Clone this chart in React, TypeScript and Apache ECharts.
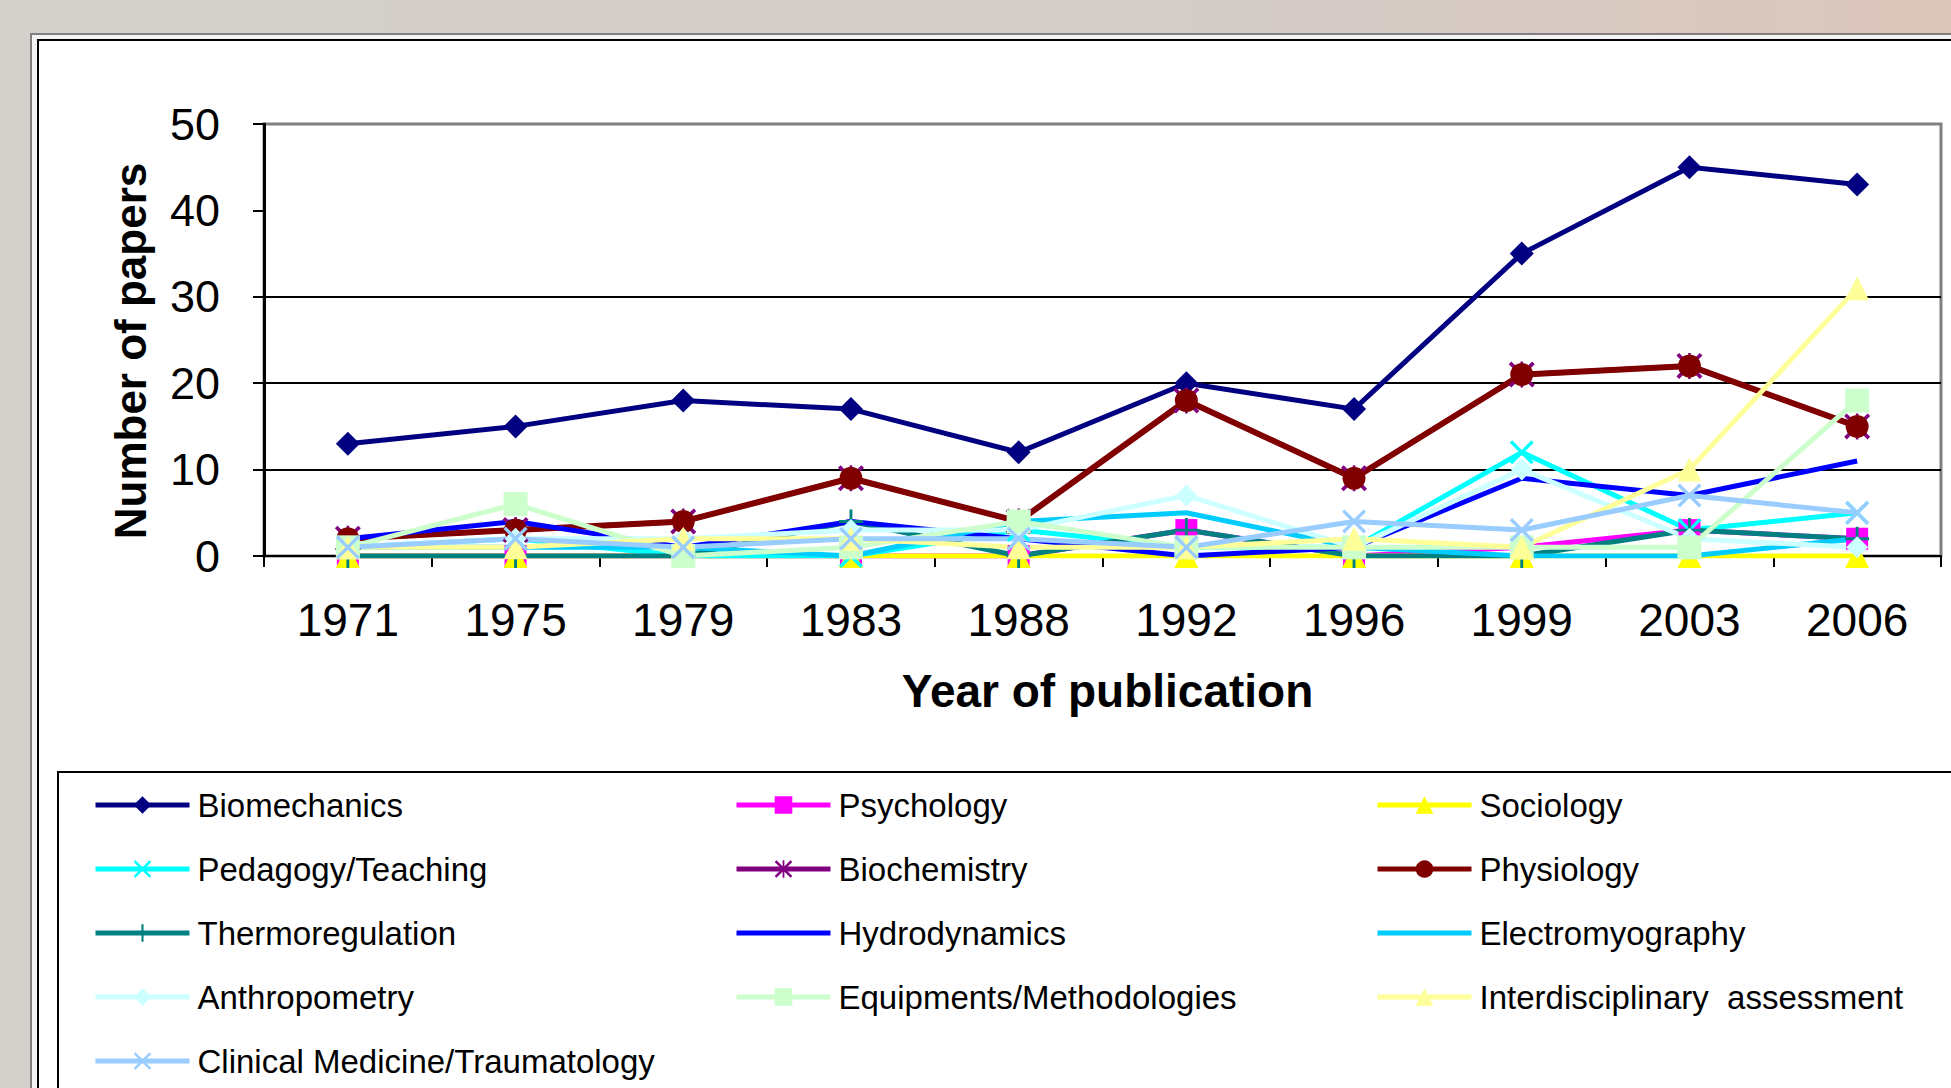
import React, { useEffect, useRef } from "react";
import * as echarts from "echarts";

const years = ["1971", "1975", "1979", "1983", "1988", "1992", "1996", "1999", "2003", "2006"];
const yTicks = [0, 10, 20, 30, 40, 50];
const gridValues = [10, 20, 30];

const biomechanics = [13, 15, 18, 17, 12, 20, 17, 35, 45, 43];
const psychology = [0, 0, 0, 0, 0, 3, 0, 1, 3, 2];
const sociology = [0, 0, 0, 0, 0, 0, 0, 0, 0, 0];
const pedagogy = [1, 2, 0, 0, 3, 1, 1, 12, 3, 5];
const biochemistry = [2, 3, 4, 9, 4, 18, 9, 21, 22, 15];
const physiology = [2, 3, 4, 9, 4, 18, 9, 21, 22, 15];
const thermoregulation = [0, 0, 0, 4, 0, 3, 0, 0, 3, 2];
const hydrodynamics = [2, 4, 1, 4, 2, 0, 1, 9, 7, 11];
const electromyography = [1, 1, 1, 0, 4, 5, 1, 0, 0, 2];
const anthropometry = [1, 2, 2, 3, 3, 7, 1, 10, 2, 1];
const equipments = [1, 6, 0, 1, 4, 1, 1, 1, 1, 18];
const interdisciplinary = [1, 1, 2, 2, 1, 1, 2, 1, 10, 31];
const clinical = [1, 2, 1, 2, 2, 1, 4, 3, 7, 5];

const X_SYM = "path://M0,1L1,0L5,4L9,0L10,1L6,5L10,9L9,10L5,6L1,10L0,9L4,5Z";
const PLUS_SYM = "path://M4.4,0H5.6V10H4.4ZM0,4.4H10V5.6H0Z";
const AST_SYM = "path://M0,1L1,0L5,4L9,0L10,1L6,5L10,9L9,10L5,6L1,10L0,9L4,5ZM4.5,0H5.5V10H4.5Z";

type S = { name: string; data: number[]; color: string; symbol: string; size: number; width: number };

const seriesDefs: S[] = [
  { name: "Biomechanics", data: biomechanics, color: "#000080", symbol: "diamond", size: 24, width: 5 },
  { name: "Psychology", data: psychology, color: "#FF00FF", symbol: "rect", size: 22, width: 5 },
  { name: "Sociology", data: sociology, color: "#FFFF00", symbol: "triangle", size: 24, width: 5 },
  { name: "Pedagogy/Teaching", data: pedagogy, color: "#00FFFF", symbol: X_SYM, size: 24, width: 5 },
  { name: "Biochemistry", data: biochemistry, color: "#800080", symbol: AST_SYM, size: 26, width: 5 },
  { name: "Physiology", data: physiology, color: "#800000", symbol: "circle", size: 23, width: 6 },
  { name: "Thermoregulation", data: thermoregulation, color: "#008080", symbol: PLUS_SYM, size: 24, width: 5 },
  { name: "Hydrodynamics", data: hydrodynamics, color: "#0000FF", symbol: "none", size: 0, width: 5 },
  { name: "Electromyography", data: electromyography, color: "#00CCFF", symbol: "none", size: 0, width: 5 },
  { name: "Anthropometry", data: anthropometry, color: "#CCFFFF", symbol: "diamond", size: 22, width: 5 },
  { name: "Equipments/Methodologies", data: equipments, color: "#CCFFCC", symbol: "rect", size: 24, width: 5 },
  { name: "Interdisciplinary  assessment", data: interdisciplinary, color: "#FFFF99", symbol: "triangle", size: 24, width: 5 },
  { name: "Clinical Medicine/Traumatology", data: clinical, color: "#99CCFF", symbol: X_SYM, size: 24, width: 5 },
];

const legendCol1 = ["Biomechanics", "Pedagogy/Teaching", "Thermoregulation", "Anthropometry", "Clinical Medicine/Traumatology"];
const legendCol2 = ["Psychology", "Biochemistry", "Hydrodynamics", "Equipments/Methodologies"];
const legendCol3 = ["Sociology", "Physiology", "Electromyography", "Interdisciplinary  assessment"];

const FONT = "'Liberation Sans', Arial, sans-serif";

export default function App() {
  const ref = useRef<HTMLDivElement>(null);
  useEffect(() => {
    if (!ref.current) return;
    const chart = echarts.init(ref.current, undefined, { renderer: "svg" });
    const noMarker = new Set(seriesDefs.filter((s) => s.symbol === "none").map((s) => s.name));
    const legendBase = (left: number, names: string[]) => ({
      show: true,
      orient: "vertical",
      left,
      top: 785,
      padding: 0,
      itemWidth: 94,
      itemHeight: 22,
      itemGap: 24,
      lineStyle: { width: 5 },
      data: names.map((n) => (noMarker.has(n) ? { name: n, itemStyle: { opacity: 0 } } : { name: n })),
      selectedMode: false,
      textStyle: { fontFamily: FONT, fontSize: 33, color: "#000", lineHeight: 40, padding: [0, 0, 0, 3] },
    });
    const option: any = {
      animation: false,
      textStyle: { fontFamily: FONT },
      graphic: [
        {
          type: "rect",
          z: -10,
          silent: true,
          shape: { x: 0, y: 0, width: 1951, height: 1088 },
          style: {
            fill: new echarts.graphic.LinearGradient(0, 0, 1, 0, [
              { offset: 0, color: "#d4d0cc" },
              { offset: 0.6, color: "#d3ccc8" },
              { offset: 1, color: "#dcc6bb" },
            ]),
          },
        },
        {
          type: "rect",
          z: -9,
          silent: true,
          shape: { x: 31, y: 34, width: 2000, height: 2000 },
          style: { fill: "#f4f4f4", stroke: "#808080", lineWidth: 2 },
        },
        {
          type: "rect",
          z: -8,
          silent: true,
          shape: { x: 38, y: 40, width: 2000, height: 2000 },
          style: { fill: "#ffffff", stroke: "#000000", lineWidth: 2 },
        },
        {
          type: "rect",
          z: -7,
          silent: true,
          shape: { x: 58, y: 772, width: 2000, height: 400 },
          style: { fill: "#ffffff", stroke: "#000000", lineWidth: 2 },
        },
      ],
      grid: {
        left: 264,
        right: 10,
        top: 124,
        bottom: 532,
        show: true,
        backgroundColor: "#ffffff",
        borderColor: "#808080",
        borderWidth: 3,
      },
      legend: [legendBase(93, legendCol1), legendBase(734, legendCol2), legendBase(1375, legendCol3)],
      xAxis: {
        type: "category",
        data: years,
        boundaryGap: true,
        name: "Year of publication",
        nameLocation: "middle",
        nameGap: 112,
        nameTextStyle: { fontFamily: FONT, fontSize: 46, fontWeight: "bold", color: "#000", padding: [0, 0, 0, 10] },
        axisLine: { show: true, lineStyle: { color: "#000", width: 2 } },
        axisTick: { show: true, length: 11, lineStyle: { color: "#000", width: 2 } },
        axisLabel: { fontFamily: FONT, fontSize: 46, color: "#000", margin: 41 },
        splitLine: { show: false },
      },
      yAxis: {
        type: "value",
        min: yTicks[0],
        max: yTicks[yTicks.length - 1],
        interval: 10,
        name: "Number of papers",
        nameLocation: "middle",
        nameGap: 112,
        nameTextStyle: { fontFamily: FONT, fontSize: 44, fontWeight: "bold", color: "#000", padding: [0, 22, 0, 0] },
        axisLine: { show: true, lineStyle: { color: "#000", width: 3 } },
        axisTick: { show: true, length: 11, lineStyle: { color: "#000", width: 2 } },
        axisLabel: { fontFamily: FONT, fontSize: 45, color: "#000", margin: 44 },
        splitLine: { show: false },
      },
      series: [
        {
          type: "line",
          name: "__grid",
          data: [],
          silent: true,
          markLine: {
            z: 1,
            silent: true,
            symbol: "none",
            label: { show: false },
            lineStyle: { color: "#000", width: 2, type: "solid" },
            data: gridValues.map((v) => ({ yAxis: v })),
          },
        },
        ...seriesDefs.map((s) => ({
          type: "line",
          name: s.name,
          data: s.data,
          symbol: s.symbol,
          symbolSize: s.size,
          showSymbol: s.symbol !== "none",
          lineStyle: { color: s.color, width: s.width },
          itemStyle: { color: s.color, borderWidth: 0 },
          emphasis: { disabled: true },
        })),
      ],
    };
    chart.setOption(option);
    return () => chart.dispose();
  }, []);
  return (
    <div
      ref={ref}
      style={{ position: "absolute", left: 0, top: 0, width: 1951, height: 1088, overflow: "hidden" }}
    />
  );
}
